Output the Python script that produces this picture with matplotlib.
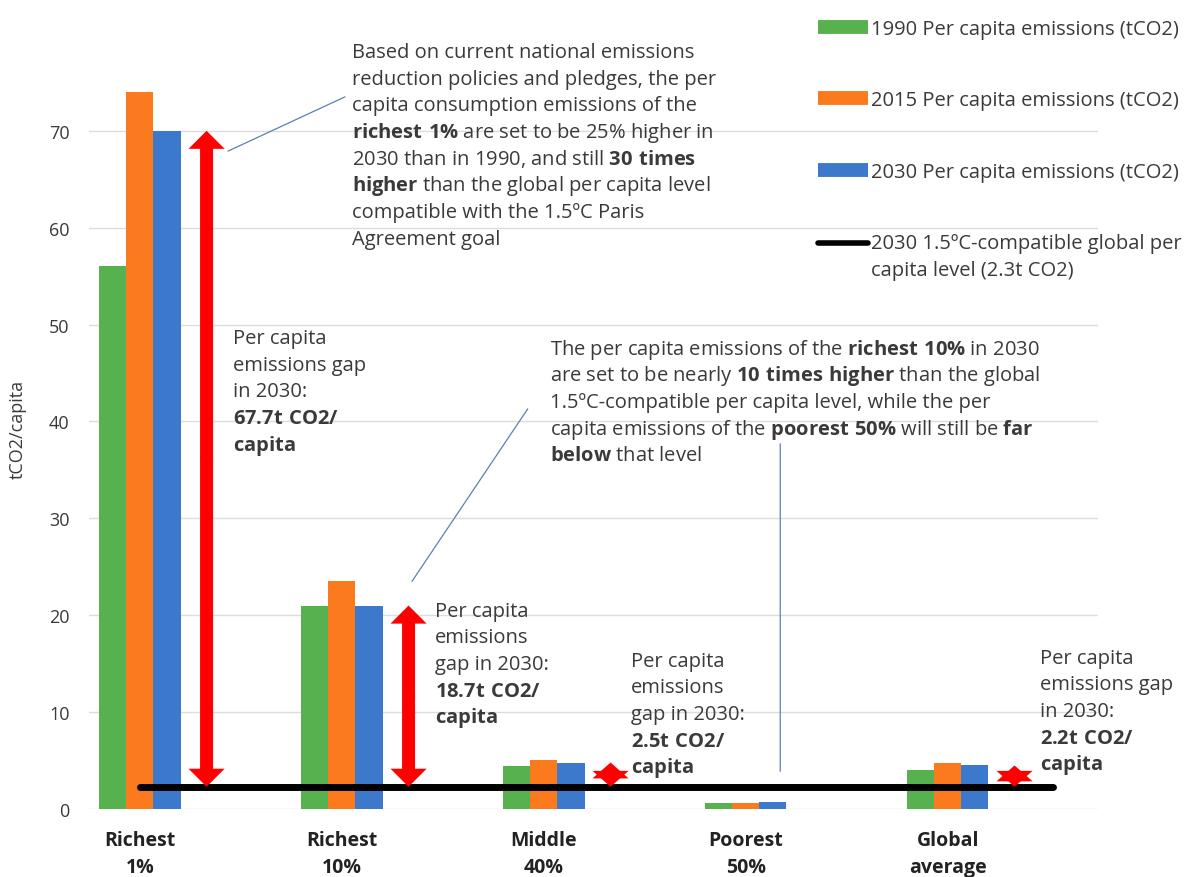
import numpy as np
import matplotlib.pyplot as plt
from matplotlib.lines import Line2D
from matplotlib.transforms import Affine2D

plt.rcParams['font.family'] = ['Open Sans', 'DejaVu Sans']
plt.rcParams['mathtext.fontset'] = 'custom'
plt.rcParams['mathtext.rm'] = 'Open Sans'
plt.rcParams['mathtext.bf'] = 'Open Sans:bold'

# data
groups = ["Richest\n1%", "Richest\n10%", "Middle\n40%", "Poorest\n50%", "Global\naverage"]
e1990 = [56.0, 21.0, 4.4, 0.6, 4.0]
e2015 = [74.0, 23.5, 5.1, 0.6, 4.8]
e2030 = [70.0, 21.0, 4.8, 0.7, 4.5]
target = 2.3
gap_groups = [0, 1, 2, 4]   # groups with a gap arrow

series_names = ["1990 Per capita emissions (tCO2)",
                "2015 Per capita emissions (tCO2)",
                "2030 Per capita emissions (tCO2)"]
target_name = "2030 1.5ºC-compatible global per\ncapita level (2.3t CO2)"

colors = ['#58b14f', '#fb7a1e', '#3c78cb']
txt = '#3a3a3a'

fig = plt.figure(figsize=(11.98, 8.78), dpi=100)
ax = fig.add_axes([0.0743, 0.0774, 0.8422, 0.9226])

x = np.arange(len(groups))
w = 0.134
for i, vals in enumerate([e1990, e2015, e2030]):
    ax.bar(x + (i - 1) * w, vals, w, color=colors[i], zorder=2)

# 1.5C-compatible line
ax.plot([0, 4.52], [target, target], color='black', lw=5, solid_capstyle='round', zorder=4)

# gap arrows: two filled arrows from the middle outwards, slightly overlapping
for g in gap_groups:
    mid = (e2030[g] + target) / 2
    hl = 0.5 if e2030[g] - target > 5 else 0.44
    style = f'simple,head_length={hl},head_width=1.0,tail_width=0.36'
    for start, end in ((mid - 0.15, e2030[g]), (mid + 0.15, target)):
        ax.annotate('', xy=(g + 0.33, end), xytext=(g + 0.33, start),
                    arrowprops=dict(arrowstyle=style, color='#ff0000', lw=0,
                                    mutation_scale=26, shrinkA=0, shrinkB=0),
                    zorder=5)

ax.set_xlim(-0.252, 4.743)
ax.set_ylim(0, 83.6)
ax.set_yticks(np.arange(0, 71, 10))
ax.set_xticks(x)
ax.set_xticklabels(groups, fontweight='bold', fontsize=14, color='#222222', linespacing=1.45)
ax.tick_params(axis='y', length=0, pad=14, labelsize=13, labelcolor=txt)
ax.tick_params(axis='x', length=0, pad=15)
ax.grid(axis='y', color='#dcdcdc', lw=1, zorder=0)
ax.set_axisbelow(True)
for s in ax.spines.values():
    s.set_visible(False)
ax.set_ylabel('tCO2/capita', fontsize=13, color=txt)
ax.yaxis.set_label_coords(-0.062, 0.47)

fs = 14.5
dy = 19.2  # points between baselines


def block(xd, yd, lines):
    for k, line in enumerate(lines):
        ax.annotate(line, xy=(xd, yd), xytext=(0, -k * dy), textcoords='offset points',
                    fontsize=fs, color=txt, va='baseline', ha='left')


block(1.05, 77.6, [
    "Based on current national emissions",
    "reduction policies and pledges, the per",
    "capita consumption emissions of the",
    r"$\mathbf{richest\ 1\%}$ are set to be 25% higher in",
    r"2030 than in 1990, and still $\mathbf{30\ times}$",
    r"$\mathbf{higher}$ than the global per capita level",
    "compatible with the 1.5ºC Paris",
    "Agreement goal"])

block(0.46, 48.1, ["Per capita", "emissions gap", "in 2030:",
                   r"$\mathbf{67.7t\ CO2/}$", r"$\mathbf{capita}$"])

block(2.03, 47.0, [
    r"The per capita emissions of the $\mathbf{richest\ 10\%}$ in 2030",
    r"are set to be nearly $\mathbf{10\ times\ higher}$ than the global",
    "1.5ºC-compatible per capita level, while the per",
    r"capita emissions of the $\mathbf{poorest\ 50\%}$ will still be $\mathbf{far}$",
    r"$\mathbf{below}$ that level"])

block(1.46, 19.97, ["Per capita", "emissions", "gap in 2030:",
                    r"$\mathbf{18.7t\ CO2/}$", r"$\mathbf{capita}$"])

block(2.43, 14.8, ["Per capita", "emissions", "gap in 2030:",
                   r"$\mathbf{2.5t\ CO2/}$", r"$\mathbf{capita}$"])

block(4.455, 15.1, ["Per capita", "emissions gap", "in 2030:",
                    r"$\mathbf{2.2t\ CO2/}$", r"$\mathbf{capita}$"])

# connector lines
conn = dict(arrowstyle='-', color='#5b7fb5', lw=0.9, shrinkA=0, shrinkB=0)
ax.annotate('', xy=(0.436, 67.9), xytext=(1.015, 73.5), arrowprops=conn)
ax.annotate('', xy=(1.347, 23.5), xytext=(1.92, 41.3), arrowprops=conn)
ax.annotate('', xy=(3.17, 3.9), xytext=(3.17, 37.7), arrowprops=conn)

# legend
handles = [Line2D([], [], color=c, lw=10, solid_capstyle='butt') for c in colors]
handles.append(Line2D([], [], color='black', lw=4, solid_capstyle='round'))
leg = fig.legend(handles, series_names + [target_name], loc='upper left',
                 bbox_to_anchor=(818 / 1198, 1 - 20 / 878), frameon=False,
                 fontsize=fs, labelcolor=txt, handlelength=2.5, handletextpad=0.15,
                 labelspacing=2.55, borderaxespad=0, borderpad=0)
for t in leg.get_texts():
    t.set_linespacing(1.45)
# line handle sits level with the first line of its two-line label
lh = leg.legend_handles[3]
lh.set_transform(lh.get_transform() + Affine2D().translate(0, 14))

fig.savefig('out.png', dpi=100)
